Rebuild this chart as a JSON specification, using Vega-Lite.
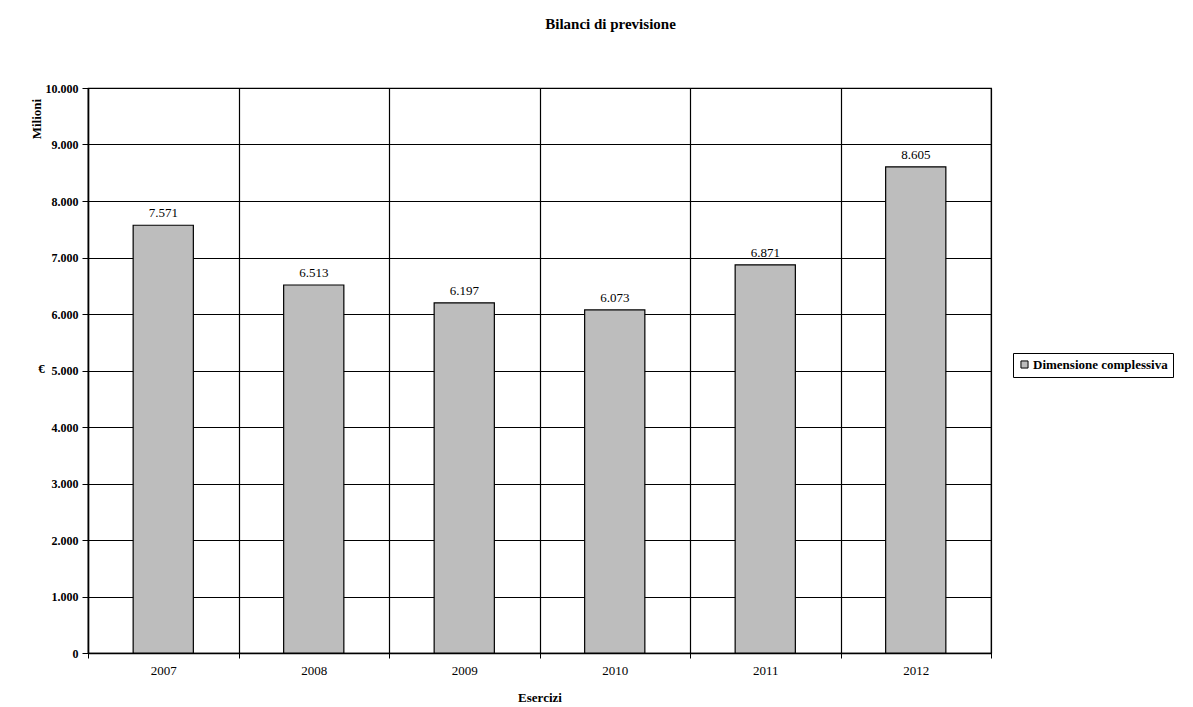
{
  "$schema": "https://vega.github.io/schema/vega-lite/v6.json",
  "width": 903,
  "height": 565,
  "autosize": {"type": "none"},
  "padding": {"left": 88, "top": 88, "right": 202, "bottom": 54},
  "background": "white",
  "config": {
    "font": "Times New Roman, Liberation Serif, serif",
    "view": {"stroke": "black", "strokeWidth": 1.2}
  },
  "title": {
    "text": "Bilanci di previsione",
    "font": "Times New Roman, Liberation Serif, serif",
    "fontSize": 15,
    "fontWeight": 700,
    "anchor": "middle",
    "dx": 71,
    "offset": 50,
    "color": "black"
  },
  "layer": [
    {
      "data": {
        "values": [
          {"anno": "2007", "valore": 7571, "serie": "Dimensione complessiva"},
          {"anno": "2008", "valore": 6513, "serie": "Dimensione complessiva"},
          {"anno": "2009", "valore": 6197, "serie": "Dimensione complessiva"},
          {"anno": "2010", "valore": 6073, "serie": "Dimensione complessiva"},
          {"anno": "2011", "valore": 6871, "serie": "Dimensione complessiva"},
          {"anno": "2012", "valore": 8605, "serie": "Dimensione complessiva"}
        ]
      },
      "encoding": {
        "x": {
          "field": "anno",
          "type": "nominal",
          "scale": {"paddingInner": 0, "paddingOuter": 0},
          "axis": {
            "title": "Esercizi",
            "titleFont": "Times New Roman, Liberation Serif, serif",
            "titleFontWeight": 700,
            "titleFontSize": 13,
            "titleColor": "black",
            "titlePadding": 14,
            "labelAngle": 0,
            "labelFont": "Times New Roman, Liberation Serif, serif",
            "labelFontSize": 13,
            "labelColor": "black",
            "labelPadding": 6,
            "domainColor": "black",
            "domainWidth": 1.5,
            "tickBand": "extent",
            "tickColor": "black",
            "tickSize": 5,
            "grid": true,
            "gridColor": "black",
            "gridWidth": 1.2,
            "gridOpacity": 1
          }
        },
        "y": {
          "field": "valore",
          "type": "quantitative",
          "scale": {"domain": [0, 10000]},
          "axis": {
            "title": "€",
            "titleAngle": 0,
            "titleX": -47,
            "titleY": 287,
            "titleAlign": "center",
            "titleFont": "Times New Roman, Liberation Serif, serif",
            "titleFontSize": 13,
            "titleFontWeight": 700,
            "titleColor": "black",
            "values": [0, 1000, 2000, 3000, 4000, 5000, 6000, 7000, 8000, 9000, 10000],
            "labelExpr": "replace(format(datum.value, ','), ',', '.')",
            "labelFont": "Times New Roman, Liberation Serif, serif",
            "labelFontSize": 12,
            "labelFontWeight": 700,
            "labelColor": "black",
            "labelPadding": 4,
            "domainColor": "black",
            "domainWidth": 1.5,
            "tickColor": "black",
            "tickSize": 6,
            "grid": true,
            "gridColor": "black",
            "gridWidth": 1.2,
            "gridOpacity": 1
          }
        }
      },
      "layer": [
        {
          "mark": {"type": "bar", "width": {"band": 0.4}, "stroke": "black", "strokeWidth": 1.2},
          "encoding": {
            "color": {
              "field": "serie",
              "type": "nominal",
              "scale": {"range": ["#bdbdbd"]},
              "legend": {
                "title": null,
                "orient": "none",
                "legendX": 925,
                "legendY": 265,
                "strokeColor": "black",
                "fillColor": "white",
                "padding": 5,
                "symbolType": "square",
                "symbolSize": 50,
                "symbolStrokeColor": "black",
                "symbolStrokeWidth": 1,
                "labelFont": "Times New Roman, Liberation Serif, serif",
                "labelFontSize": 13,
                "labelFontWeight": 700,
                "labelColor": "black",
                "labelOffset": 2
              }
            }
          }
        },
        {
          "transform": [{"calculate": "replace(format(datum.valore, ','), ',', '.')", "as": "lab"}],
          "mark": {"type": "text", "baseline": "bottom", "dy": -5, "fontSize": 13, "font": "Times New Roman, Liberation Serif, serif", "color": "black"},
          "encoding": {
            "text": {"field": "lab", "type": "nominal"}
          }
        }
      ]
    },
    {
      "data": {"values": [{"t": "Milioni", "anno": "2007", "v": 9450}]},
      "mark": {"type": "text", "angle": 270, "align": "center", "baseline": "middle", "dy": -126, "fontSize": 13, "fontWeight": 700, "font": "Times New Roman, Liberation Serif, serif", "color": "black"},
      "encoding": {
        "x": {"field": "anno", "type": "nominal"},
        "y": {"field": "v", "type": "quantitative"},
        "text": {"field": "t", "type": "nominal"}
      }
    }
  ]
}
